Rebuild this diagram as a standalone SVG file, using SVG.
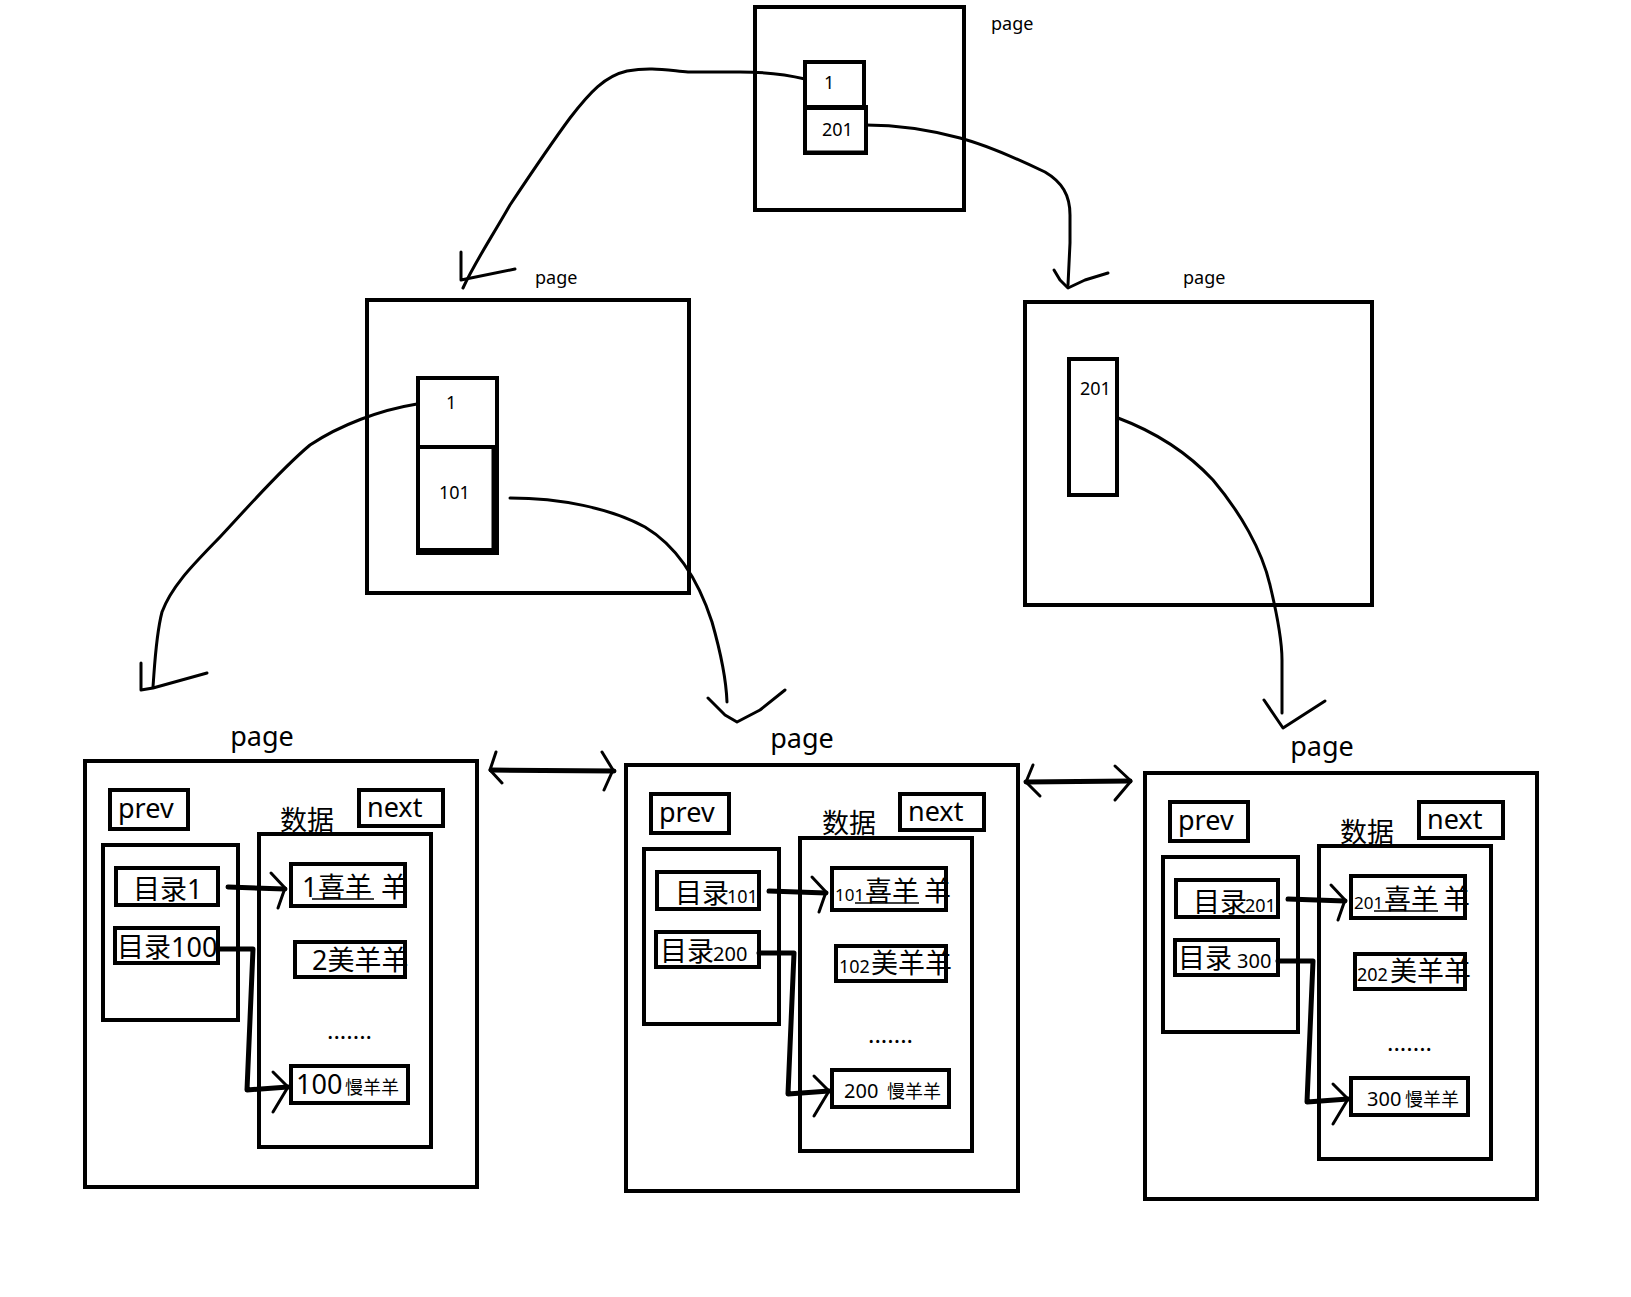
<svg xmlns="http://www.w3.org/2000/svg" width="1631" height="1297" viewBox="0 0 1631 1297">
<style>
.box{fill:none;stroke:#000;stroke-width:4}
.ln{fill:none;stroke:#000;stroke-width:3;stroke-linejoin:round;stroke-linecap:round}
.tk{fill:none;stroke:#000;stroke-width:5;stroke-linejoin:round;stroke-linecap:round}
.t{font-family:"Noto Sans","Noto Sans CJK SC",sans-serif;fill:#000}
.s17{font-size:17px}
.s18{font-size:18px}
.s20{font-size:20px}
.s27{font-size:27px}
.ul{stroke:#000;stroke-width:1.5}
</style>
<rect width="1631" height="1297" fill="#fff"/>

<g id="root-page">
  <rect class="box" x="755" y="7" width="209" height="203"/>
  <rect class="box" x="805" y="62" width="59" height="46"/>
  <rect class="box" x="805" y="107" width="61" height="46"/>
  <line x1="805" y1="152" x2="866" y2="152" stroke="#000" stroke-width="3"/>
  <text class="t s18" x="824" y="89">1</text>
  <text class="t s18" x="822" y="136">201</text>
  <text class="t s18" x="991" y="30">page</text>
</g>

<g id="mid-left-page">
  <rect class="box" x="367" y="300" width="322" height="293"/>
  <rect class="box" x="418" y="378" width="79" height="69"/>
  <rect class="box" x="418" y="447" width="79" height="106"/>
  <line x1="494" y1="447" x2="494" y2="553" stroke="#000" stroke-width="5"/>
  <line x1="418" y1="550" x2="497" y2="550" stroke="#000" stroke-width="4"/>
  <text class="t s18" x="446" y="409">1</text>
  <text class="t s18" x="439" y="499">101</text>
  <text class="t s18" x="535" y="284">page</text>
</g>

<g id="mid-right-page">
  <rect class="box" x="1025" y="302" width="347" height="303"/>
  <rect class="box" x="1069" y="359" width="48" height="136"/>
  <text class="t s18" x="1080" y="395">201</text>
  <text class="t s18" x="1183" y="284">page</text>
</g>

<g id="leaf-page-1">
  <text class="t s27" x="262" y="746" text-anchor="middle">page</text>
  <rect class="box" x="85" y="761" width="392" height="426"/>
  <text class="t s27" x="118" y="818">prev</text>
  <rect class="box" x="110" y="790" width="78" height="39"/>
  <text class="t s27" x="367" y="817">next</text>
  <rect class="box" x="359" y="790" width="84" height="36"/>
  <text class="t s27" x="280" y="830">数据</text>
  <rect class="box" x="103" y="845" width="135" height="175"/>
  <text class="t s27" x="133" y="899">目录1</text>
  <rect class="box" x="116" y="868" width="102" height="37"/>
  <text class="t s27" x="117" y="957">目录100</text>
  <rect class="box" x="115" y="928" width="103" height="35"/>
  <rect class="box" x="259" y="834" width="172" height="313"/>
  <text class="t s27" y="897"><tspan x="302">1</tspan><tspan x="318">喜羊</tspan><tspan x="381">羊</tspan></text>
  <line class="ul" x1="312" y1="899" x2="374" y2="899"/>
  <rect class="box" x="291" y="864" width="114" height="42"/>
  <text class="t s27" x="312" y="970">2美羊羊</text>
  <rect class="box" x="295" y="942" width="110" height="35"/>
  <text class="t" font-size="24" x="327" y="1039">.......</text>
  <text class="t" y="1094"><tspan class="s27" x="296">100</tspan><tspan class="s18" x="345">慢羊羊</tspan></text>
  <rect class="box" x="291" y="1066" width="117" height="37"/>
</g>

<g id="leaf-page-2" transform="translate(541,4)">
  <text class="t s27" x="261" y="744" text-anchor="middle">page</text>
  <rect class="box" x="85" y="761" width="392" height="426"/>
  <text class="t s27" x="118" y="818">prev</text>
  <rect class="box" x="110" y="790" width="78" height="39"/>
  <text class="t s27" x="367" y="817">next</text>
  <rect class="box" x="359" y="790" width="84" height="36"/>
  <text class="t s27" x="281" y="829">数据</text>
  <rect class="box" x="103" y="845" width="135" height="175"/>
  <text class="t" y="899"><tspan class="s27" x="134">目录</tspan><tspan class="s18" x="186">101</tspan></text>
  <rect class="box" x="116" y="868" width="102" height="37"/>
  <text class="t" y="957"><tspan class="s27" x="119">目录</tspan><tspan class="s20" x="172">200</tspan></text>
  <rect class="box" x="115" y="928" width="103" height="35"/>
  <rect class="box" x="259" y="834" width="172" height="313"/>
  <text class="t" y="897"><tspan class="s17" x="294">101</tspan><tspan class="s27" x="324">喜羊</tspan><tspan class="s27" x="383">羊</tspan></text>
  <line class="ul" x1="314" y1="899" x2="378" y2="899"/>
  <rect class="box" x="291" y="864" width="114" height="42"/>
  <text class="t" y="969"><tspan class="s18" x="298">102</tspan><tspan class="s27" x="330">美羊羊</tspan></text>
  <rect class="box" x="295" y="942" width="110" height="35"/>
  <text class="t" font-size="24" x="327" y="1039">.......</text>
  <text class="t" y="1094"><tspan class="s20" x="303">200</tspan><tspan class="s18" x="346">慢羊羊</tspan></text>
  <rect class="box" x="291" y="1066" width="117" height="37"/>
</g>

<g id="leaf-page-3" transform="translate(1060,12)">
  <text class="t s27" x="262" y="744" text-anchor="middle">page</text>
  <rect class="box" x="85" y="761" width="392" height="426"/>
  <text class="t s27" x="118" y="818">prev</text>
  <rect class="box" x="110" y="790" width="78" height="39"/>
  <text class="t s27" x="367" y="817">next</text>
  <rect class="box" x="359" y="790" width="84" height="36"/>
  <text class="t s27" x="280" y="830">数据</text>
  <rect class="box" x="103" y="845" width="135" height="175"/>
  <text class="t" y="900"><tspan class="s27" x="133">目录</tspan><tspan class="s18" x="185">201</tspan></text>
  <rect class="box" x="116" y="868" width="102" height="37"/>
  <text class="t" y="956"><tspan class="s27" x="118">目录</tspan><tspan class="s20" x="177">300</tspan></text>
  <rect class="box" x="115" y="928" width="103" height="35"/>
  <rect class="box" x="259" y="834" width="172" height="313"/>
  <text class="t" y="897"><tspan class="s17" x="294">201</tspan><tspan class="s27" x="324">喜羊</tspan><tspan class="s27" x="383">羊</tspan></text>
  <line class="ul" x1="314" y1="899" x2="378" y2="899"/>
  <rect class="box" x="291" y="864" width="114" height="42"/>
  <text class="t" y="969"><tspan class="s18" x="297">202</tspan><tspan class="s27" x="330">美羊羊</tspan></text>
  <rect class="box" x="295" y="942" width="110" height="35"/>
  <text class="t" font-size="24" x="327" y="1039">.......</text>
  <text class="t" y="1094"><tspan class="s20" x="307">300</tspan><tspan class="s18" x="345">慢羊羊</tspan></text>
  <rect class="box" x="291" y="1066" width="117" height="37"/>
</g>

<g id="connectors">
  <path class="ln" d="M805,79 C780,73 760,72 740,72 L688,72 C665,70 650,67 627,71 C605,76 590,92 570,118 C550,145 530,175 510,205 C490,240 475,262 463,288"/>
  <polyline class="ln" points="461,252 461,280 515,269"/>
  <path class="ln" d="M866,125 C900,125 930,130 960,138 C990,146 1020,160 1045,172 C1062,182 1070,195 1070,215 L1070,243 L1068,285"/>
  <polyline class="ln" points="1054,270 1060,280 1068,288 1085,280 1108,273"/>
  <path class="ln" d="M417,404 C380,410 340,425 310,445 C280,470 250,505 220,537 C195,563 172,585 162,612 C156,635 155,660 153,687"/>
  <polyline class="ln" points="141,663 141,690 153,688 207,673"/>
  <path class="ln" d="M510,498 C560,498 610,508 645,527 C680,548 700,585 712,622 C720,650 726,675 727,702"/>
  <polyline class="ln" points="708,698 725,715 737,722 760,710 785,690"/>
  <path class="ln" d="M1118,418 C1150,430 1185,450 1213,480 C1240,512 1262,550 1270,585 C1276,610 1282,640 1282,660 L1282,713"/>
  <polyline class="ln" points="1264,700 1283,728 1325,701"/>

  <polyline class="tk" points="491,770 614,771"/>
  <polyline class="ln" points="496,752 490,770 502,783"/>
  <polyline class="ln" points="602,752 613,770 604,790"/>
  <polyline class="tk" points="1026,782 1130,781"/>
  <polyline class="ln" points="1033,765 1026,782 1040,796"/>
  <polyline class="ln" points="1115,766 1131,781 1115,800"/>

  <g id="leaf-arrows-1">
    <polyline class="tk" points="228,887 285,889"/>
    <polyline class="ln" points="271,873 285,888 278,908"/>
    <polyline class="tk" points="218,949 253,949 247,1090 288,1087"/>
    <polyline class="ln" points="273,1072 288,1087 273,1112"/>
  </g>
  <g id="leaf-arrows-2" transform="translate(541,4)">
    <polyline class="tk" points="228,887 285,889"/>
    <polyline class="ln" points="271,873 285,888 278,908"/>
    <polyline class="tk" points="218,949 253,949 247,1090 288,1087"/>
    <polyline class="ln" points="273,1072 288,1087 273,1112"/>
  </g>
  <g id="leaf-arrows-3" transform="translate(1060,12)">
    <polyline class="tk" points="228,887 285,889"/>
    <polyline class="ln" points="271,873 285,888 278,908"/>
    <polyline class="tk" points="218,949 253,949 247,1090 288,1087"/>
    <polyline class="ln" points="273,1072 288,1087 273,1112"/>
  </g>
</g>
</svg>
